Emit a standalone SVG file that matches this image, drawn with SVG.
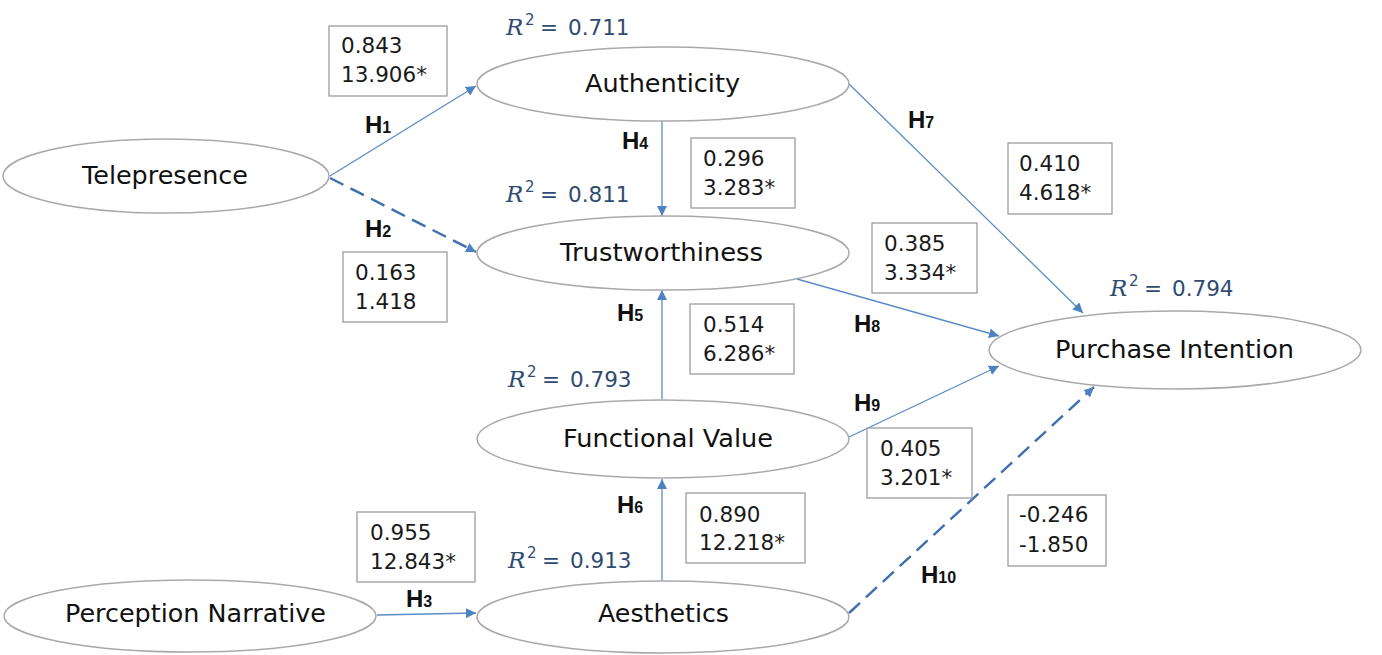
<svg xmlns="http://www.w3.org/2000/svg" width="1382" height="655" viewBox="0 0 1382 655">
<defs>
<style>
.node{fill:#ffffff;stroke:#a9a9a9;stroke-width:1.5}
.lbl{font-family:"DejaVu Sans","Liberation Sans",sans-serif;font-size:24px;fill:#111}
.box{fill:#ffffff;stroke:#9c9c9c;stroke-width:1.3}
.num{font-family:"DejaVu Sans","Liberation Sans",sans-serif;font-size:21.5px;fill:#1a1a1a}
.hl{font-family:"Liberation Sans","DejaVu Sans",sans-serif;font-weight:bold;font-size:24px;fill:#111}
.hs{font-size:16px}
.r2{font-family:"DejaVu Sans","Liberation Sans",sans-serif;font-size:21.5px;fill:#2f4b70}
.ri{font-family:"DejaVu Serif","Liberation Serif",serif;font-style:italic;font-size:23px}
.sup{font-size:15px}
.solid{fill:none;stroke:#5b8cc6;stroke-width:1.3;marker-end:url(#ah)}
.dash{fill:none;stroke:#3e6fae;stroke-width:2.4;stroke-dasharray:15 8;marker-end:url(#ah)}
</style>
<marker id="ah" markerUnits="userSpaceOnUse" markerWidth="11" markerHeight="10" refX="10" refY="5" orient="auto">
<path d="M0,0 L10,5 L0,10 z" fill="#4f82c0"/>
</marker>
</defs>
<rect width="1382" height="655" fill="#ffffff"/>

<g id="connectors">
<line class="solid" x1="330" y1="176" x2="476" y2="86"/>
<line class="dash" x1="330" y1="178" x2="476" y2="252"/>
<line class="solid" x1="377" y1="615" x2="476" y2="613"/>
<line class="solid" x1="662" y1="120" x2="662" y2="216"/>
<line class="solid" x1="662" y1="399" x2="662" y2="290"/>
<line class="solid" x1="662" y1="582" x2="662" y2="479"/>
<line class="solid" x1="849" y1="84" x2="1083" y2="313"/>
<line class="solid" x1="797" y1="279" x2="999" y2="336"/>
<line class="solid" x1="849" y1="437" x2="999" y2="366"/>
<line class="dash" x1="849" y1="613" x2="1094" y2="387"/>
</g>

<g id="telepresence">
<ellipse class="node" cx="166" cy="176" rx="163" ry="37"/>
<text class="lbl" x="82" y="184" textLength="166" lengthAdjust="spacingAndGlyphs">Telepresence</text>
</g>
<g id="authenticity">
<ellipse class="node" cx="663" cy="84" rx="186" ry="37"/>
<text class="lbl" x="585" y="92" textLength="155" lengthAdjust="spacingAndGlyphs">Authenticity</text>
</g>
<g id="trustworthiness">
<ellipse class="node" cx="663" cy="253" rx="186" ry="37"/>
<text class="lbl" x="560" y="261" textLength="203" lengthAdjust="spacingAndGlyphs">Trustworthiness</text>
</g>
<g id="functional-value">
<ellipse class="node" cx="663" cy="439" rx="186" ry="39"/>
<text class="lbl" x="563" y="447" textLength="210" lengthAdjust="spacingAndGlyphs">Functional Value</text>
</g>
<g id="aesthetics">
<ellipse class="node" cx="663" cy="617" rx="186" ry="36"/>
<text class="lbl" x="598" y="622" textLength="131" lengthAdjust="spacingAndGlyphs">Aesthetics</text>
</g>
<g id="perception-narrative">
<ellipse class="node" cx="190" cy="616" rx="186" ry="36"/>
<text class="lbl" x="65" y="622" textLength="261" lengthAdjust="spacingAndGlyphs">Perception Narrative</text>
</g>
<g id="purchase-intention">
<ellipse class="node" cx="1175" cy="350" rx="186" ry="39"/>
<text class="lbl" x="1055" y="358" textLength="239" lengthAdjust="spacingAndGlyphs">Purchase Intention</text>
</g>

<g id="coef-h1">
<rect class="box" x="329" y="26" width="118" height="70"/>
<text class="num" x="341" y="53">0.843</text>
<text class="num" x="341" y="82">13.906*</text>
</g>
<g id="coef-h2">
<rect class="box" x="343" y="252" width="104" height="70"/>
<text class="num" x="355" y="280">0.163</text>
<text class="num" x="355" y="309">1.418</text>
</g>
<g id="coef-h3">
<rect class="box" x="357" y="512" width="118" height="70"/>
<text class="num" x="370" y="540">0.955</text>
<text class="num" x="370" y="569">12.843*</text>
</g>
<g id="coef-h4">
<rect class="box" x="691" y="138" width="104" height="70"/>
<text class="num" x="703" y="166">0.296</text>
<text class="num" x="703" y="195">3.283*</text>
</g>
<g id="coef-h5">
<rect class="box" x="690" y="304" width="104" height="70"/>
<text class="num" x="703" y="332">0.514</text>
<text class="num" x="703" y="361">6.286*</text>
</g>
<g id="coef-h6">
<rect class="box" x="686" y="493" width="119" height="70"/>
<text class="num" x="699" y="522">0.890</text>
<text class="num" x="699" y="550">12.218*</text>
</g>
<g id="coef-h7">
<rect class="box" x="1008" y="143" width="104" height="71"/>
<text class="num" x="1019" y="171">0.410</text>
<text class="num" x="1019" y="200">4.618*</text>
</g>
<g id="coef-h8">
<rect class="box" x="872" y="223" width="105" height="70"/>
<text class="num" x="884" y="251">0.385</text>
<text class="num" x="884" y="280">3.334*</text>
</g>
<g id="coef-h9">
<rect class="box" x="867" y="428" width="105" height="70"/>
<text class="num" x="880" y="456">0.405</text>
<text class="num" x="880" y="485">3.201*</text>
</g>
<g id="coef-h10">
<rect class="box" x="1008" y="495" width="98" height="71"/>
<text class="num" x="1019" y="522">-0.246</text>
<text class="num" x="1019" y="552">-1.850</text>
</g>

<g id="hypotheses">
<text class="hl" x="365" y="133">H<tspan class="hs">1</tspan></text>
<text class="hl" x="365" y="237">H<tspan class="hs">2</tspan></text>
<text class="hl" x="406" y="607">H<tspan class="hs">3</tspan></text>
<text class="hl" x="622" y="149">H<tspan class="hs">4</tspan></text>
<text class="hl" x="617" y="321">H<tspan class="hs">5</tspan></text>
<text class="hl" x="617" y="513">H<tspan class="hs">6</tspan></text>
<text class="hl" x="908" y="128">H<tspan class="hs">7</tspan></text>
<text class="hl" x="854" y="332">H<tspan class="hs">8</tspan></text>
<text class="hl" x="854" y="411">H<tspan class="hs">9</tspan></text>
<text class="hl" x="921" y="583">H<tspan class="hs">10</tspan></text>
</g>

<g id="r-squared">
<text class="r2" y="35"><tspan class="ri" x="506">R</tspan><tspan class="sup" x="525" dy="-10">2</tspan><tspan x="540" dy="10">=</tspan><tspan x="568">0.711</tspan></text>
<text class="r2" y="202"><tspan class="ri" x="506">R</tspan><tspan class="sup" x="525" dy="-10">2</tspan><tspan x="540" dy="10">=</tspan><tspan x="568">0.811</tspan></text>
<text class="r2" y="387"><tspan class="ri" x="508">R</tspan><tspan class="sup" x="527" dy="-10">2</tspan><tspan x="542" dy="10">=</tspan><tspan x="570">0.793</tspan></text>
<text class="r2" y="568"><tspan class="ri" x="508">R</tspan><tspan class="sup" x="527" dy="-10">2</tspan><tspan x="542" dy="10">=</tspan><tspan x="570">0.913</tspan></text>
<text class="r2" y="296"><tspan class="ri" x="1110">R</tspan><tspan class="sup" x="1129" dy="-10">2</tspan><tspan x="1144" dy="10">=</tspan><tspan x="1172">0.794</tspan></text>
</g>
</svg>
